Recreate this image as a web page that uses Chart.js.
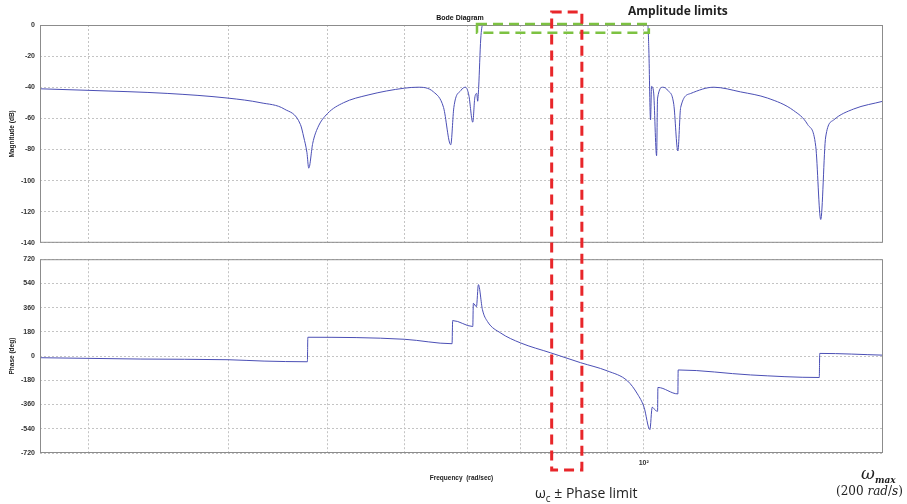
<!DOCTYPE html>
<html>
<head>
<meta charset="utf-8">
<script src="https://cdn.jsdelivr.net/npm/chart.js@4"></script>
<style>
  html, body { margin: 0; padding: 0; background: #fff; }
  body { width: 907px; height: 504px; position: relative; overflow: hidden; font-family: "Liberation Sans", Arial, sans-serif; }
  .wrap { position: absolute; left: 0; width: 907px; }
  #magWrap { top: 0; height: 252px; }
  #phaseWrap { top: 250px; height: 254px; }
  #overlay { position: absolute; left: 0; top: 0; pointer-events: none; }
  .note { position: absolute; white-space: nowrap; color: #111; transform: translateY(-50%); }
</style>
</head>
<body>
<div class="wrap" id="magWrap"><canvas id="magChart"></canvas></div>
<div class="wrap" id="phaseWrap"><canvas id="phaseChart"></canvas></div>
<canvas id="overlay" width="907" height="504"></canvas>

<div class="note" style="left:460px; top:17px; transform:translate(-50%,-50%); font: bold 7px 'Liberation Sans', sans-serif;">Bode Diagram</div>
<div class="note" style="left:628px; top:10px; font: bold 12px 'Open Sans', sans-serif; color:#222;">Amplitude limits</div>
<div class="note" style="left:535px; top:494px; font: 14px 'Open Sans', sans-serif; color:#222;">ω<sub style="font-size:10px">c</sub> ± Phase limit</div>
<div class="note" style="left:861px; top:474px; font: italic 17px 'DejaVu Serif', serif; color:#222;">ω<sub style="font-size:9px; font-weight:bold">max</sub></div>
<div class="note" style="left:836px; top:491px; font: 12px 'DejaVu Serif', serif; color:#222;">(200 <i>rad</i>/<i>s</i>)</div>

<script>
// frequency axis (rad/sec), log scale
const freqMin = 17.4;
const freqMax = 200;
const freqGrid = [20, 30, 40, 50, 60, 70, 80, 90, 100];

// magnitude (dB)
const magTicks = [-140, -120, -100, -80, -60, -40, -20, 0];
const magFreq = [
  17.4, 20, 25.2, 30, 33, 35.3, 37.0, 37.35, 37.7, 37.9,
  38.34, 38.9, 40, 41.9, 45.0, 50, 52, 54.4, 56.0, 57.18,
  57.7, 58.9, 59.7, 60.25, 60.95, 61.3, 61.65, 61.82, 62.0, 62.37,
  62.73, 101.2, 101.5, 102.0, 102.3, 102.9, 103.8, 104.1, 105.7, 107.2,
  109.1, 110.4, 111.3, 114.6, 122.5, 132.4, 143.2, 154.4, 160.8, 164.6,
  167.0, 169.4, 173.4, 183.7, 200
];
const magDb = [
  -41, -42, -44, -47, -50, -54, -64, -72, -82, -92,
  -76, -66, -57, -50, -45, -40.6, -40, -43, -53, -77,
  -53, -42, -40, -45, -62.5, -47, -44, -49, -40, -9,
  0, 0, -16, -61, -39.5, -43, -84, -47, -40, -42,
  -51, -81, -53, -44, -40, -43, -47, -55, -64, -78,
  -125, -72, -61, -54, -49
];

// phase (deg)
const phaseTicks = [-720, -540, -360, -180, 0, 180, 360, 540, 720];
const phaseFreq = [
  17.4, 23.3, 30, 33.3, 37.75, 37.8, 50, 57.4, 57.5, 60.95,
  61.05, 61.6, 61.95, 62.68, 63.6, 66.1, 70, 76.4, 83.3, 90.0,
  95.4, 98.2, 100.1, 101.8, 102.5, 103.5, 104.1, 104.2, 110.4, 110.5,
  136.3, 166.3, 166.5, 200
];
const phaseDeg = [
  -12, -22, -27, -37, -42, 140, 125, 92, 264, 220,
  392, 367, 531, 345, 257, 171, 98, 24, -49, -110,
  -184, -281, -380, -546, -380, -404, -410, -233, -281, -103,
  -140, -159, 20, 7
];

// annotation boxes
const ampBoxFreq = [61.7, 101.5];
const ampBoxDb = [0.6, -5];
const phaseBoxFreq = [76.6, 83.6];

const lineColor = '#4b4fb5';
const gridColor = '#c4c4c4';
const tickFont = { family: 'Liberation Sans', size: 7, weight: 'bold' };
const titleFont = { family: 'Liberation Sans', size: 6.5, weight: 'bold' };

const frame = {
  id: 'frame',
  afterDraw(chart) {
    const a = chart.chartArea;
    const ctx = chart.ctx;
    ctx.save();
    ctx.strokeStyle = '#8c8c8c';
    ctx.lineWidth = 1;
    ctx.strokeRect(a.left + 0.5, a.top + 0.5, a.right - a.left - 1, a.bottom - a.top - 1);
    ctx.restore();
  }
};

function makeChart(id, xs, ys, ticks, yTitle, padding, xHeight, showX) {
  return new Chart(document.getElementById(id), {
    type: 'line',
    data: {
      datasets: [{
        data: xs.map((f, i) => ({ x: f, y: ys[i] })),
        borderColor: lineColor,
        borderWidth: 1,
        pointRadius: 0,
        cubicInterpolationMode: 'monotone',
        fill: false
      }]
    },
    options: {
      responsive: true,
      maintainAspectRatio: false,
      animation: false,
      layout: { padding: padding },
      plugins: { legend: { display: false }, tooltip: { enabled: false } },
      scales: {
        x: {
          type: 'logarithmic',
          min: freqMin,
          max: freqMax,
          afterBuildTicks: (s) => { s.ticks = freqGrid.map(v => ({ value: v })); },
          afterFit: (s) => { s.height = xHeight; },
          grid: { color: gridColor, drawTicks: false },
          border: { display: false, dash: [2, 2] },
          ticks: {
            display: showX,
            padding: 6,
            autoSkip: false,
            maxRotation: 0,
            color: '#333',
            font: tickFont,
            callback: (v) => v === 100 ? '10\u00b2' : ''
          },
          title: {
            display: showX,
            text: 'Frequency  (rad/sec)',
            color: '#222',
            font: titleFont,
            padding: { top: 0, bottom: 2 }
          }
        },
        y: {
          min: ticks[0],
          max: ticks[ticks.length - 1],
          afterBuildTicks: (s) => { s.ticks = ticks.map(v => ({ value: v })); },
          afterFit: (s) => { s.width = 40; },
          grid: { color: gridColor, drawTicks: false },
          border: { display: false, dash: [2, 2] },
          ticks: { padding: 5, color: '#333', font: tickFont },
          title: {
            display: true,
            text: yTitle,
            color: '#222',
            font: titleFont,
            padding: { top: 8, bottom: 0 }
          }
        }
      }
    },
    plugins: [frame]
  });
}

const magChart = makeChart('magChart', magFreq, magDb, magTicks, 'Magnitude (dB)',
  { top: 25, right: 24, bottom: 3, left: 0 }, 0, false);
const phaseChart = makeChart('phaseChart', phaseFreq, phaseDeg, phaseTicks, 'Phase (deg)',
  { top: 7, right: 24, bottom: 20, left: 0 }, 31, true);

// limit boxes drawn on a transparent layer over both panels
const ov = document.getElementById('overlay').getContext('2d');
const mx = magChart.scales.x, my = magChart.scales.y;

ov.save();
ov.strokeStyle = '#7dc242';
ov.lineWidth = 2.5;
ov.setLineDash([10, 6]);
const gx0 = mx.getPixelForValue(ampBoxFreq[0]), gx1 = mx.getPixelForValue(ampBoxFreq[1]);
const gy0 = my.getPixelForValue(ampBoxDb[0]), gy1 = my.getPixelForValue(ampBoxDb[1]);
ov.strokeRect(gx0, gy0, gx1 - gx0, gy1 - gy0);
ov.restore();

ov.save();
ov.strokeStyle = '#e8262a';
ov.lineWidth = 3;
ov.setLineDash([10, 6]);
const rx0 = mx.getPixelForValue(phaseBoxFreq[0]), rx1 = mx.getPixelForValue(phaseBoxFreq[1]);
const ry0 = magChart.chartArea.top - 13;
const ry1 = 250 + phaseChart.chartArea.bottom + 17;
ov.strokeRect(rx0, ry0, rx1 - rx0, ry1 - ry0);
ov.restore();
</script>
</body>
</html>
